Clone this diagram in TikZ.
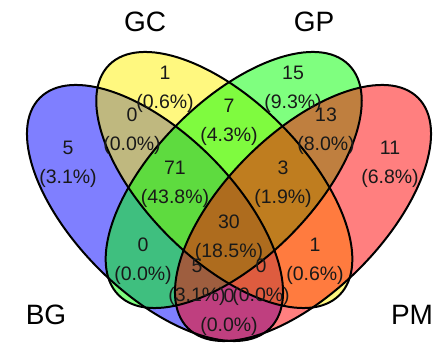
\documentclass[tikz,border=0pt]{standalone}
\usepackage{fontspec}
\setmainfont{Liberation Sans}
\begin{document}
\begin{tikzpicture}[x=1pt,y=1pt,
  setfill/.style={fill=#1, fill opacity=0.5},
  setline/.style={draw=black, line width=2pt},
  count/.style={align=center, text=black!90, inner sep=0pt,
    font=\fontsize{19.5}{29}\selectfont},
  setname/.style={text=black, inner sep=0pt,
    font=\fontsize{28}{32}\selectfont},
  bgaxis/.style={rotate around={-45:(155,132)}},
  gcaxis/.style={rotate around={-45:(224.3,165)}},
  gpaxis/.style={rotate around={45:(233.7,165)}},
  pmaxis/.style={rotate around={45:(303,132)}}]
\useasboundingbox (0,0) rectangle (439,345);

% centres of the four sets
\coordinate (cBG) at (155,132);
\coordinate (cGC) at (224.3,165);
\coordinate (cGP) at (233.7,165);
\coordinate (cPM) at (303,132);
\def\ra{162.8}
\def\rb{79.2}

% translucent fills, laid on in order
\fill[setfill=blue,   bgaxis] (cBG) ellipse [x radius=\ra, y radius=\rb];
\fill[setfill=yellow, gcaxis] (cGC) ellipse [x radius=\ra, y radius=\rb];
\fill[setfill=green,  gpaxis] (cGP) ellipse [x radius=\ra, y radius=\rb];
\fill[setfill=red,    pmaxis] (cPM) ellipse [x radius=\ra, y radius=\rb];

% outlines on top
\draw[setline, bgaxis] (cBG) ellipse [x radius=\ra, y radius=\rb];
\draw[setline, gcaxis] (cGC) ellipse [x radius=\ra, y radius=\rb];
\draw[setline, gpaxis] (cGP) ellipse [x radius=\ra, y radius=\rb];
\draw[setline, pmaxis] (cPM) ellipse [x radius=\ra, y radius=\rb];

% region counts
\node[count] (nBG)     at (68,181)    {5\\(3.1\%)};
\node[count] (nPM)     at (390,181)   {11\\(6.8\%)};
\node[count] (nGC)     at (165,256)   {1\\(0.6\%)};
\node[count] (nGP)     at (293,256)   {15\\(9.3\%)};
\node[count] (nBGGC)   at (132,214)   {0\\(0.0\%)};
\node[count] (nGPPM)   at (326,214)   {13\\(8.0\%)};
\node[count] (nGCGP)   at (229,222.5) {7\\(4.3\%)};
\node[count] (nBGGCGP) at (175,160.5) {71\\(43.8\%)};
\node[count] (nGCGPPM) at (283,160.5) {3\\(1.9\%)};
\node[count] (nAll)    at (229,107)   {30\\(18.5\%)};
\node[count] (nBGGP)   at (143,84)    {0\\(0.0\%)};
\node[count] (nGCPM)   at (315,84)    {1\\(0.6\%)};
\node[count] (nBGGPPM) at (197,62.5)  {5\\(3.1\%)};
\node[count] (nBGGCPM) at (261,62.5)  {0\\(0.0\%)};
\node[count] (nBGPM)   at (229,32.5)  {0\\(0.0\%)};

% set names
\node[setname] (lBG) at (46,30)   {BG};
\node[setname] (lPM) at (412,30)  {PM};
\node[setname] (lGC) at (145,323) {GC};
\node[setname] (lGP) at (314,323) {GP};
\end{tikzpicture}
\end{document}
